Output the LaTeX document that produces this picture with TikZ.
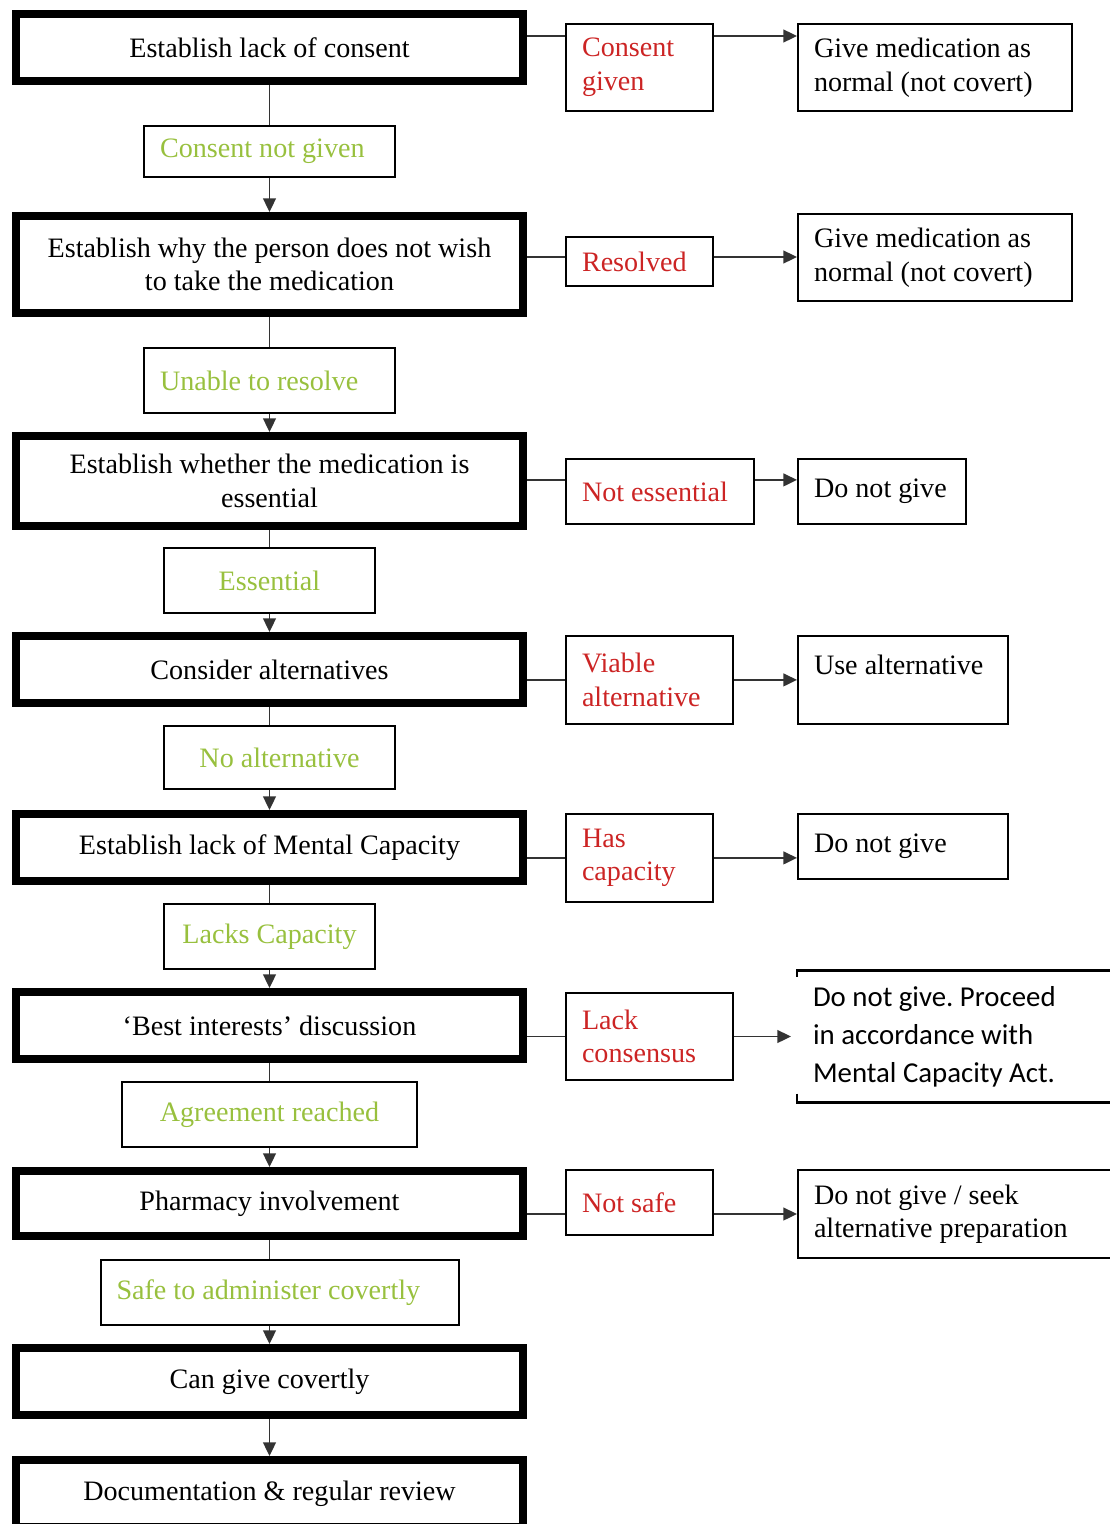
\documentclass[tikz,border=0pt]{standalone}
\usepackage{fontspec}
\setmainfont{Liberation Serif}
\newfontfamily\calibrifont{Carlito}
\usetikzlibrary{arrows.meta,positioning}
\definecolor{yesred}{RGB}{204,36,36}
\definecolor{nogreen}{RGB}{152,192,62}
\tikzset{
	%Define standard arrow tip
	>={Triangle[length=0.34cm,width=0.32cm]},
	%Define style for the main steps
	hoved/.style={
		rectangle,
		draw=black, line width=0.2cm,
		minimum width=12.675cm,
		inner sep=0.1cm,
		align=center,
		font=\fontsize{20}{24}\selectfont},
	%Define style for the answer boxes
	svar/.style={
		rectangle,
		draw=black, line width=0.05cm,
		inner xsep=0.4cm, inner ysep=0.1cm,
		align=center, text=nogreen,
		font=\fontsize{20}{24}\selectfont},
	avvik/.style={svar, align=flush left, text=yesred},
	utfall/.style={svar, align=flush left, text=black},
	% Define arrow style
	pil/.style={->, line width=0.04cm, draw=black!80},
	strek/.style={line width=0.04cm, draw=black!80}
}
\begin{document}
\begin{tikzpicture}[node distance=0.45cm]
	\useasboundingbox (0,0) rectangle (27.725,-38.1);
	
	% main column
	\node[hoved, minimum height=1.675cm] (consent) at (6.7375,-1.1875) {Establish lack of consent};
	\node[svar, text width=5.475cm, align=flush left, minimum height=1.275cm, below=1cm of consent] (notgiven) {Consent not given};
	\node[hoved, minimum height=2.425cm, below=0.85cm of notgiven] (why) {Establish why the person does not wish\\to take the medication};
	\node[svar, text width=5.475cm, align=flush left, minimum height=1.625cm, below=0.75cm of why] (unable) {Unable to resolve};
	\node[hoved, minimum height=2.25cm, below=of unable] (essq) {Establish whether the medication is\\essential};
	\node[svar, minimum width=5.275cm, minimum height=1.625cm, below=0.425cm of essq] (ess) {Essential};
	\node[hoved, minimum height=1.675cm, below=of ess] (alt) {Consider alternatives};
	\node[svar, minimum width=5.775cm, minimum height=1.575cm, below=of alt, xshift=0.25cm] (noalt) {No alternative};
	\node[hoved, minimum height=1.675cm, below=0.5cm of noalt, xshift=-0.25cm] (mcap) {Establish lack of Mental Capacity};
	\node[svar, minimum width=5.275cm, minimum height=1.625cm, below=of mcap] (lacks) {Lacks Capacity};
	\node[hoved, minimum height=1.675cm, below=of lacks] (best) {‘Best interests’ discussion};
	\node[svar, minimum width=7.375cm, minimum height=1.625cm, below=of best] (agree) {Agreement reached};
	\node[hoved, minimum height=1.625cm, below=0.475cm of agree] (pharm) {Pharmacy involvement};
	\node[svar, text width=8.15cm, align=flush left, minimum height=1.625cm, below=0.475cm of pharm, xshift=0.25cm] (safe) {Safe to administer covertly};
	\node[hoved, minimum height=1.675cm, below=of safe, xshift=-0.25cm] (cangive) {Can give covertly};
	\node[hoved, minimum height=1.675cm, below=0.925cm of cangive] (review) {Documentation \& regular review};
	
	% side answers
	\node[avvik, text width=2.875cm, minimum height=2.175cm, right=0.95cm of consent, yshift=-0.5cm] (cgiven) {Consent\\given};
	\node[avvik, text width=2.875cm, minimum height=1.225cm, right=0.95cm of why, yshift=0.075cm] (resolved) {Resolved};
	\node[avvik, text width=3.9cm, minimum height=1.625cm, right=0.95cm of essq, yshift=-0.26cm] (notess) {Not essential};
	\node[avvik, text width=3.375cm, minimum height=2.2cm, right=0.95cm of alt, yshift=-0.26cm] (viable) {Viable\\alternative};
	\node[avvik, text width=2.875cm, minimum height=2.2cm, right=0.95cm of mcap, yshift=-0.26cm] (hascap) {Has\\capacity};
	\node[avvik, text width=3.375cm, minimum height=2.175cm, right=0.95cm of best, yshift=-0.275cm] (lackcon) {Lack\\consensus};
	\node[avvik, text width=2.875cm, minimum height=1.625cm, right=0.95cm of pharm, yshift=0.025cm] (notsafe) {Not safe};
	
	% outcomes
	\node[utfall, text width=6.05cm, minimum height=2.175cm, right=2.075cm of cgiven] (give1) {Give medication as\\normal (not covert)};
	\node[utfall, text width=6.05cm, minimum height=2.175cm, right=2.075cm of resolved, yshift=0.1cm] (give2) {Give medication as\\normal (not covert)};
	\node[utfall, text width=3.4cm, minimum height=1.625cm, right=1.05cm of notess] (nogive1) {Do not give};
	\node[utfall, text width=4.45cm, text depth=0.75cm, minimum height=2.2cm, right=1.575cm of viable] (usealt) {Use alternative};
	\node[utfall, text width=4.45cm, minimum height=1.625cm, right=2.075cm of hascap, yshift=0.29cm] (nogive2) {Do not give};
	\node[utfall, draw=none, inner xsep=0.375cm, text width=8.15cm, minimum height=3.25cm, right=1.575cm of lackcon,
		font=\calibrifont\fontsize{20.5}{27}\selectfont\frenchspacing] (mca) {Do not give. Proceed\\in accordance with\\Mental Capacity Act.};
	\node[utfall, text width=8.15cm, minimum height=2.2cm, right=2.075cm of notsafe, yshift=-0.29cm] (seek) {Do not give / seek\\alternative preparation};
	\draw[line width=0.07cm] ([yshift=-0.15cm]mca.north west) -- (mca.north west) -- (mca.north east);
	\draw[line width=0.07cm] ([yshift=0.22cm]mca.south west) -- (mca.south west) -- (mca.south east);
	
	% column connectors
	\draw[strek] (consent.south) -- (notgiven.north);
	\draw[pil] (notgiven.south) -- (why.north);
	\draw[strek] (why.south) -- (unable.north);
	\draw[pil] (unable.south) -- (essq.north);
	\draw[strek] (essq.south) -- (ess.north);
	\draw[pil] (ess.south) -- (alt.north);
	\draw[strek] (alt.south) -- (alt.south |- noalt.north);
	\draw[pil] (alt.south |- noalt.south) -- (mcap.north);
	\draw[strek] (mcap.south) -- (lacks.north);
	\draw[pil] (lacks.south) -- (best.north);
	\draw[strek] (best.south) -- (agree.north);
	\draw[pil] (agree.south) -- (pharm.north);
	\draw[strek] (pharm.south) -- (pharm.south |- safe.north);
	\draw[pil] (pharm.south |- safe.south) -- (cangive.north);
	\draw[pil] (cangive.south) -- (review.north);
	
	% side connectors
	\coordinate (j1) at ([yshift=0.7875cm]cgiven.west);
	\coordinate (j2) at ([yshift=0.1125cm]resolved.west);
	\coordinate (j3) at ([yshift=0.2875cm]notess.west);
	\coordinate (j4) at (viable.west);
	\coordinate (j5) at (hascap.west);
	\coordinate (j6) at (lackcon.west);
	\coordinate (j7) at ([yshift=-0.2875cm]notsafe.west);
	\draw[strek] (j1 -| consent.east) -- (j1);
	\draw[pil] (j1 -| cgiven.east) -- (j1 -| give1.west);
	\draw[strek] (j2 -| why.east) -- (j2);
	\draw[pil] (j2 -| resolved.east) -- (j2 -| give2.west);
	\draw[strek] (j3 -| essq.east) -- (j3);
	\draw[pil] (j3 -| notess.east) -- (j3 -| nogive1.west);
	\draw[strek] (j4 -| alt.east) -- (j4);
	\draw[pil] (j4 -| viable.east) -- (j4 -| usealt.west);
	\draw[strek] (j5 -| mcap.east) -- (j5);
	\draw[pil] (j5 -| hascap.east) -- (j5 -| nogive2.west);
	\draw[strek] (j6 -| best.east) -- (j6);
	\draw[pil] (j6 -| lackcon.east) -- ([xshift=-0.15cm]j6 -| mca.west);
	\draw[strek] (j7 -| pharm.east) -- (j7);
	\draw[pil] (j7 -| notsafe.east) -- (j7 -| seek.west);
	
\end{tikzpicture}
\end{document}
